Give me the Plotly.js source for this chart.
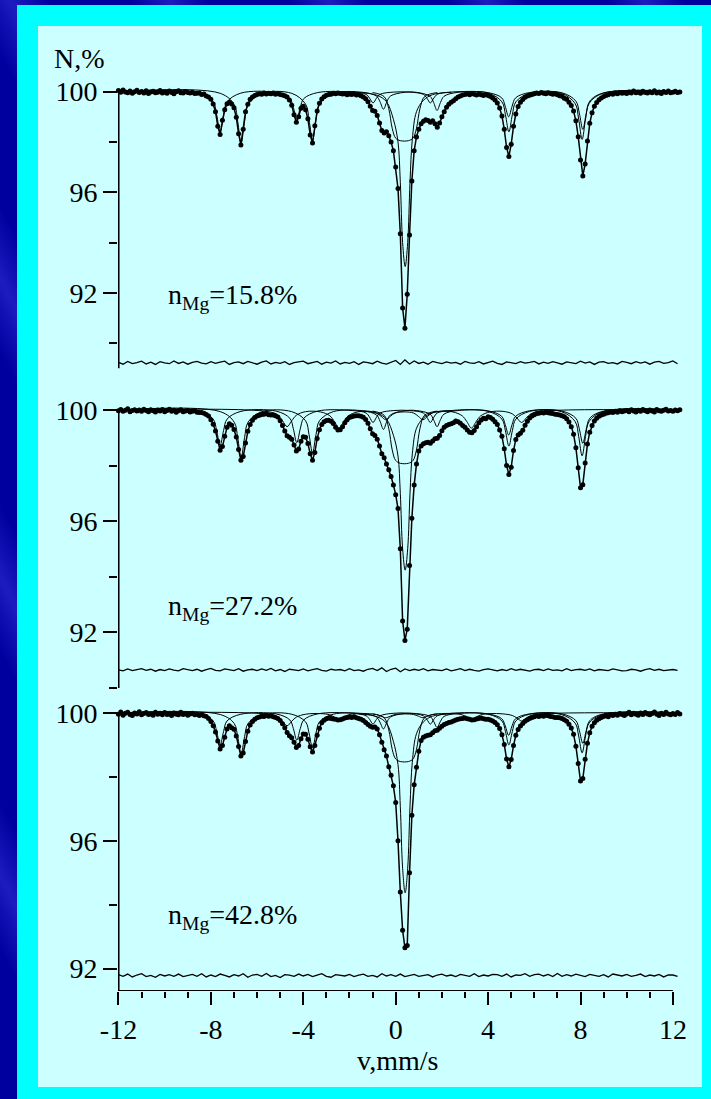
<!DOCTYPE html>
<html><head><meta charset="utf-8">
<script src="https://cdn.plot.ly/plotly-3.0.1.min.js"></script>
<style>
html,body{margin:0;padding:0;width:711px;height:1099px;overflow:hidden;}
body{background:repeating-linear-gradient(62deg,#00009e 0px,#00009e 70px,#1c1cc0 105px,#00009e 140px);}
#frame{position:absolute;left:17px;top:5px;width:694px;height:1094px;background:#00ffff;}
#panel{position:absolute;left:38px;top:26px;width:664px;height:1061px;background:#ccffff;}
#chart{position:absolute;left:0;top:0;width:711px;height:1099px;}
</style></head>
<body><div id="frame"></div><div id="panel"></div><div id="chart"></div>
<script>
// ---- data ----
// channel velocity grid (mm/s)
const velocityStart = -12.0;
const velocityStep = 0.1;
// measured absorption, hundredths of a percent (N = 100 - a/100), one value per channel
const absorb1 = [-4,3,-6,2,5,-2,7,1,-5,4, 0,6,-3,8,2,-1,5,3,-4,6, 2,7,-2,4,9,1,-3,5,6,0, 4,6,3,8,7,6,12,10,18,22,
 30,49,80,138,170,114,72,48,42,49, 64,102,168,212,150,80,50,30,22,16, 12,9,11,6,10,7,9,6,11,8,
 12,14,17,22,33,54,92,122,100,66, 58,72,108,172,204,136,77,46,29,21, 15,12,11,7,9,6,8,10,9,13,
 10,12,9,14,13,17,22,28,40,58, 75,78,95,125,155,165,160,175,200,235, 300,385,565,860,940,805,570,355,235,180,
 150,128,118,112,115,122,116,128,142,125, 100,80,62,50,42,36,28,22,18,14, 12,9,13,8,11,14,10,13,16,12,
 16,20,25,33,45,65,97,150,222,258, 209,138,89,59,42,31,23,18,15,12, 9,6,8,4,7,9,5,8,11,9,
 13,17,19,26,30,42,55,77,116,179, 272,335,288,196,126,84,58,43,32,25, 20,16,13,8,11,6,9,4,7,5,
 8,2,6,-2,5,3,7,-1,4,6, 1,5,-3,6,2,8,0,4,-2,5, 3,-1,4,2];
const absorb2 = [3,-2,5,1,-4,6,2,-1,4,0, 5,-3,2,6,-1,3,7,0,4,-2, 6,2,-3,5,1,8,3,-1,6,4, 2,7,5,3,8,9,9,12,16,22,
 35,51,76,113,145,132,95,62,50,55, 70,97,142,181,168,119,77,52,37,27, 22,19,16,15,13,17,18,18,21,25,
 39,56,76,93,98,105,126,148,141,113, 96,98,121,158,181,153,103,71,52,42, 38,37,41,49,62,72,71,60,46,35,
 27,24,22,21,21,23,26,34,48,68, 86,92,105,130,158,172,195,215,240,270, 305,355,500,760,830,790,560,390,270,195,
 148,130,122,118,116,120,112,104,102,92, 75,62,56,52,50,46,40,42,48,56, 62,72,80,82,74,60,46,36,30,32,
 24,27,33,42,52,72,95,140,200,232, 206,146,106,90,84,73,55,41,29,22, 17,13,12,9,11,8,10,12,13,15,
 16,18,21,24,32,43,60,87,136,208, 280,269,191,123,80,56,40,30,23,18, 15,12,10,7,9,5,8,3,6,4,
 2,6,-1,4,7,1,5,-2,3,6, 0,4,7,-2,3,5,1,-3,4,2, 5,0,3,-1];
const absorb3 = [4,-3,7,1,-2,5,8,0,3,-4, 6,2,-1,5,3,7,-2,4,1,6, -1,5,3,8,0,4,6,-2,5,2, 7,3,1,6,4,8,5,9,11,17,
 27,40,60,88,113,102,76,50,40,46, 51,72,105,135,125,89,57,38,27,20, 15,13,10,11,8,10,9,12,14,17,
 24,34,46,61,71,78,92,108,102,81, 66,67,82,106,122,102,70,48,31,23, 18,16,17,19,20,22,21,19,16,14,
 13,14,12,15,17,20,24,30,36,42, 45,44,50,68,92,115,135,168,195,228, 280,400,560,680,735,728,500,320,225,170,
 120,86,76,72,70,68,62,56,54,48, 42,36,33,30,28,25,22,20,18,17, 16,18,20,22,21,19,17,16,18,20,
 20,22,25,30,37,49,68,99,144,168, 146,102,70,52,41,33,26,21,17,14, 12,9,11,8,10,7,9,11,12,14,
 14,15,17,21,26,35,47,67,104,158, 213,205,145,95,62,42,31,23,18,14, 11,9,12,6,8,4,7,2,5,8,
 3,-2,6,1,4,7,0,5,-1,3, 6,2,-3,4,8,1,5,-2,3,6, 2,5,-1,3];

// fit components (velocity, absorption in hundredths of %)
const sexAx = [-12, -8.5,-7.9,-7.75,-7.6,-7.45,-7.3,-6.7, -5.18,-4.58,-4.43,-4.28,-4.13,-3.98,-3.38,
 -1.88,-1.28,-1.13,-0.98,-0.83,-0.68,-0.08, 0.6,1.2,1.35,1.5,1.65,1.8,2.4,
 3.99,4.59,4.74,4.89,5.04,5.19,5.79, 7.2,7.8,7.95,8.1,8.25,8.4,9.0, 12.3];
const sexBx = [-12, -7.59,-6.99,-6.84,-6.69,-6.54,-6.39,-5.79, -4.5,-3.9,-3.75,-3.6,-3.45,-3.3,-2.7,
 -1.43,-0.83,-0.68,-0.53,-0.38,-0.23,0.37, 0.89,1.49,1.64,1.79,1.94,2.09,2.69,
 4.0,4.6,4.75,4.9,5.05,5.2,5.8, 7.17,7.77,7.92,8.07,8.22,8.37,8.97, 12.3];
const sexCx = [-12, -5.5,-5.1,-4.9,-4.7,-4.5,-4.3,-3.9, -3.25,-2.85,-2.65,-2.45,-2.25,-2.05,-1.65,
 -1.23,-0.83,-0.63,-0.43,-0.23,-0.03, 0.38, 0.78,0.98,1.18,1.38,1.58,1.98,
 2.48,2.88,3.08,3.28,3.48,3.68,4.08, 4.65,5.05,5.25,5.45,5.65,5.85,6.25, 12.3];
const centralNarrowX = [-1.6,-0.8,-0.4,-0.1,0.1,0.2,0.3,0.41,0.52,0.62,0.72,0.9,1.2,1.6,2.4];
const centralBroadX = [-1.0,-0.5,-0.3,-0.15,0.0,0.2,0.55,0.75,0.9,1.05,1.25,1.8];

const sexA1 = [0, 6,41,92,160,92,41,6, 4,28,63,110,63,28,4, 2,11,26,45,26,11,2, 2,11,26,45,26,11,2, 4,25,58,100,58,25,4, 5,38,86,150,86,38,5, 0];
const sexB1 = [0, 7,52,118,205,118,52,7, 7,50,112,195,112,50,7, 3,18,40,70,40,18,3, 3,19,43,75,43,19,3, 6,41,92,160,92,41,6, 7,48,109,190,109,48,7, 0];
const narrow1 = [3,15,40,110,200,360,600,695,600,360,190,80,35,12,3];
const broad1 = [4,20,68,146,185,195,195,185,146,68,20,4];

const sexA2 = [0, 5,33,74,128,74,33,5, 4,30,68,118,68,30,4, 2,11,26,45,26,11,2, 2,11,26,45,26,11,2, 3,23,52,90,52,23,3, 4,30,69,120,69,30,4, 0];
const sexB2 = [0, 6,44,99,172,99,44,6, 6,39,89,155,89,39,6, 3,18,40,70,40,18,3, 2,15,35,60,35,15,2, 5,33,75,130,75,33,5, 6,42,95,165,95,42,6, 0];
const sexC2 = [0, 6,19,39,60,39,19,6, 7,21,42,65,42,21,7, 4,11,23,35,23,11, 7, 11,23,35,23,11,4, 7,21,42,65,42,21,7, 5,14,29,45,29,14,5, 0];
const narrow2 = [3,12,33,91,166,300,500,577,500,300,158,66,29,10,3];
const broad2 = [4,19,67,144,182,192,192,182,144,67,19,4];

const sexA3 = [0, 4,25,58,100,58,25,4, 3,22,49,85,49,22,3, 1,9,20,35,20,9,1, 1,9,20,35,20,9,1, 3,18,40,70,40,18,3, 3,24,55,95,55,24,3, 0];
const sexB3 = [0, 5,33,74,128,74,33,5, 4,28,63,110,63,28,4, 2,13,29,50,29,13,2, 2,11,26,45,26,11,2, 4,25,58,100,58,25,4, 5,32,72,125,72,32,5, 0];
const sexC3 = [0, 4,13,26,40,26,13,4, 2,6,13,20,13,6,2, 2,5,10,15,10,5, 3, 5,10,15,10,5,2, 2,6,13,20,13,6,2, 3,8,16,25,16,8,3, 0];
const narrow3 = [3,12,32,89,162,292,486,563,486,292,154,65,28,10,3];
const broad3 = [3,15,53,114,144,152,152,144,114,53,15,3];

// residuals (hundredths of %), sampled every 0.2 mm/s, drawn around a base level
const residualStep = 0.2;
const residualBase = [89.22, 90.63, 91.78];
const resid1 = [2,-5,6,-3,1,7,-4,3,-6,5, 0,-3,8,-2,4,-5,2,6,-1,-4, 5,-2,3,7,-6,1,4,-3,6,-1, -5,3,8,-4,2,-2,5,-6,1,4,
 7,-3,0,6,-5,3,-1,8,-4,2, -2,5,-6,4,1,-3,7,-1,-5,3, 10,-6,12,-4,8,-2,3,-5,6,1, -3,4,-1,2,-5,6,0,-2,5,-4,
 3,7,-2,-6,4,1,-3,5,-1,2, 6,-4,3,-2,5,0,-5,4,2,-3, 7,-1,4,-6,3,5,-2,1,-4,6, 2,-3,5,-1,4,-5,3,6,-2,1, 8,-3];
const resid2 = [1,-3,4,-2,2,5,-1,3,-4,2, -2,4,0,-3,5,1,-2,3,-4,2, 6,-1,-3,4,2,-2,5,-4,1,3, -2,4,-1,6,-3,2,-5,3,1,-2,
 4,-3,2,5,-1,-4,3,0,2,-3, 5,-2,1,-4,3,6,-2,8,-5,3, 7,-6,4,-2,3,-1,5,-3,2,0, -2,4,-3,1,5,-2,3,-1,-4,2,
 4,1,-3,2,-2,5,-1,3,0,-4, 2,3,-2,4,-1,1,-3,5,-2,2, 3,-1,4,-3,2,0,-2,4,1,-3, -2,3,1,-4,2,5,-1,3,-2,1, 2,-1];
const resid3 = [3,-2,5,-4,2,6,-3,1,-5,4, -1,3,-2,5,-3,0,4,-2,6,-4, 2,-3,5,1,-4,3,-1,6,-5,2, 4,-2,7,-3,1,-6,3,2,-2,5,
 -1,4,-3,2,6,-2,-5,3,1,-1, 4,-3,2,5,-2,1,-4,6,-1,3, -2,5,-3,1,4,-2,0,3,-4,2, 5,-1,2,-3,4,1,-2,6,-3,2,
 -1,4,3,-2,5,-4,2,1,6,-2, 3,5,-1,4,-3,7,-2,3,-1,5, 2,-3,4,1,-2,3,-4,5,1,-1, 4,-2,1,5,-3,2,-1,4,-4,2, 2,-2];

const xTickVals = [-12, -8, -4, 0, 4, 8, 12];
const xTickText = ['-12', '-8', '-4', '0', '4', '8', '12'];
const xMinorVals = [-11,-10,-9,-7,-6,-5,-3,-2,-1,1,2,3,5,6,7,9,10,11];
const sampleLabels = ['n<sub>Mg</sub>=15.8%', 'n<sub>Mg</sub>=27.2%', 'n<sub>Mg</sub>=42.8%'];
const labelLevels = [91.85, 92.89, 93.63];

// ---- build ----
const toN = a => a.map(v => 100 - v / 100);
const FONT = {family: "'Liberation Serif','Times New Roman',serif", size: 28, color: '#000'};
const traces = [];
function comp(x, a, ya) {
  traces.push({x: x, y: toN(a), yaxis: ya, xaxis: 'x', mode: 'lines', hoverinfo: 'skip',
    line: {color: '#000', width: 1, shape: 'spline', smoothing: 1}});
}
function panel(ya, comps, absorb, resid, base) {
  comps.forEach(c => comp(c[0], c[1], ya));
  traces.push({x0: velocityStart, dx: velocityStep, y: toN(absorb), yaxis: ya, xaxis: 'x',
    mode: 'lines+markers', line: {color: '#000', width: 1.5},
    marker: {color: '#000', size: 5}, cliponaxis: false});
  traces.push({x0: velocityStart, dx: residualStep, y: resid.map(r => base + r / 100), yaxis: ya, xaxis: 'x',
    mode: 'lines', line: {color: '#000', width: 1.3}});
}
panel('y3', [[sexAx, sexA1], [sexBx, sexB1], [centralNarrowX, narrow1], [centralBroadX, broad1]], absorb1, resid1, residualBase[0]);
panel('y2', [[sexAx, sexA2], [sexBx, sexB2], [sexCx, sexC2], [centralNarrowX, narrow2], [centralBroadX, broad2]], absorb2, resid2, residualBase[1]);
panel('y', [[sexAx, sexA3], [sexBx, sexB3], [sexCx, sexC3], [centralNarrowX, narrow3], [centralBroadX, broad3]], absorb3, resid3, residualBase[2]);

function yAx(domain, range) {
  return {domain: domain, range: range, anchor: 'x', showgrid: false, zeroline: false, showline: false,
    tickmode: 'linear', tick0: 100, dtick: 4, ticks: 'outside', ticklen: 14, tickwidth: 2, tickcolor: '#000',
    minor: {tickmode: 'linear', tick0: 100, dtick: 2, ticks: 'outside', ticklen: 8, tickwidth: 2, tickcolor: '#000', showgrid: false},
    tickfont: FONT, fixedrange: true};
}
const R1 = [89.0, 100.5], R2 = [89.98, 100.5], R3 = [91.3, 100.4];
const layout = {
  width: 711, height: 1099, margin: {l: 118, r: 30, t: 79, b: 108},
  paper_bgcolor: 'rgba(0,0,0,0)', plot_bgcolor: 'rgba(0,0,0,0)', showlegend: false,
  xaxis: {range: [-12.02, 12.35], anchor: 'y', showgrid: false, zeroline: false, showline: false,
    tickmode: 'array', tickvals: xTickVals, ticktext: xTickText, ticks: 'outside', ticklen: 13, tickwidth: 2, tickcolor: '#000',
    minor: {tickmode: 'array', tickvals: xMinorVals, ticks: 'outside', ticklen: 6, tickwidth: 2, tickcolor: '#000', showgrid: false},
    tickfont: FONT, fixedrange: true},
  yaxis: yAx([0, 0.3189], R3),
  yaxis2: yAx([0.3321, 0.6523], R2),
  yaxis3: yAx([0.6826, 1.0], R1),
  shapes: [
    {type: 'line', xref: 'x', yref: 'y3', x0: -12, x1: -12, y0: 100, y1: R1[0], line: {color: '#000', width: 2.2}},
    {type: 'line', xref: 'x', yref: 'y2', x0: -12, x1: -12, y0: 100, y1: R2[0], line: {color: '#000', width: 2.2}},
    {type: 'line', xref: 'x', yref: 'y', x0: -12, x1: -12, y0: 100, y1: R3[0], line: {color: '#000', width: 2.2}},
    {type: 'line', xref: 'x', yref: 'y', x0: -12, x1: 12, y0: R3[0], y1: R3[0], line: {color: '#000', width: 2.2}}
  ],
  annotations: [
    {xref: 'paper', yref: 'paper', x: -0.1172, y: 1.023, xanchor: 'left', yanchor: 'middle', text: 'N,%', showarrow: false, font: FONT},
    {xref: 'paper', yref: 'paper', x: 0.497, y: -0.0757, xanchor: 'center', yanchor: 'middle', text: 'v,mm/s', showarrow: false, font: FONT},
    {xref: 'x', yref: 'y3', x: -9.95, y: labelLevels[0], xanchor: 'left', yanchor: 'middle', text: sampleLabels[0], showarrow: false, font: FONT},
    {xref: 'x', yref: 'y2', x: -9.95, y: labelLevels[1], xanchor: 'left', yanchor: 'middle', text: sampleLabels[1], showarrow: false, font: FONT},
    {xref: 'x', yref: 'y', x: -9.95, y: labelLevels[2], xanchor: 'left', yanchor: 'middle', text: sampleLabels[2], showarrow: false, font: FONT}
  ]
};
Plotly.newPlot('chart', traces, layout, {displayModeBar: false, staticPlot: true});
</script>
</body></html>
